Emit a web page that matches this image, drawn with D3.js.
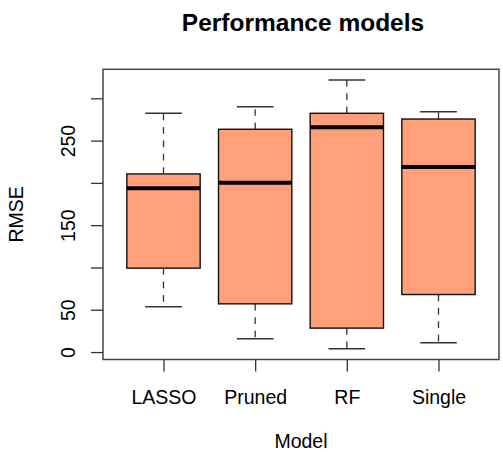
<!DOCTYPE html>
<html>
<head>
<meta charset="utf-8">
<script src="https://cdn.jsdelivr.net/npm/d3@7"></script>
<style>
  body { margin: 0; background: #fff; }
  text { font-family: "Liberation Sans", Arial, Helvetica, sans-serif; fill: #000; }
</style>
</head>
<body>
<div id="chart"></div>
<script>
// boxplot stats
var models = ["LASSO", "Pruned", "RF", "Single"];
var lowerWhisker = [53.5, 15.7, 3.9, 11];
var lowerHinge = [99.2, 57, 28.3, 68];
var medians = [193.7, 200.3, 265.7, 218.8];
var upperHinge = [210.6, 263.4, 282.3, 275.5];
var upperWhisker = [282.3, 290, 321.6, 284.2];

var yTicks = [0, 50, 100, 150, 200, 250, 300];
var yTickLabels = ["0", "50", "", "150", "", "250", ""];

var width = 503, height = 452;
var margin = {top: 69.3, right: 4, bottom: 92.5, left: 103};

var svg = d3.select("#chart").append("svg")
  .attr("width", width)
  .attr("height", height);

// R style 4% axis extension
var xlo = 0.5, xhi = models.length + 0.5;
var xpad = (xhi - xlo) * 0.04;
var x = d3.scaleLinear()
  .domain([xlo - xpad, xhi + xpad])
  .range([margin.left, width - margin.right]);

var ymin = d3.min(lowerWhisker), ymax = d3.max(upperWhisker);
var ypad = (ymax - ymin) * 0.04;
var y = d3.scaleLinear()
  .domain([ymin - ypad, ymax + ypad])
  .range([height - margin.bottom, margin.top]);

var boxes = models.map(function(m, i) {
  return {name: m, pos: i + 1, lw: lowerWhisker[i], q1: lowerHinge[i],
    med: medians[i], q3: upperHinge[i], uw: upperWhisker[i]};
});

var boxW = 0.8, capW = 0.4;

var g = svg.append("g").selectAll("g.box")
  .data(boxes)
  .enter().append("g")
  .attr("class", "box");

// whiskers (dashed)
g.append("line")
  .attr("x1", function(d) { return x(d.pos); })
  .attr("x2", function(d) { return x(d.pos); })
  .attr("y1", function(d) { return y(d.q3); })
  .attr("y2", function(d) { return y(d.uw); })
  .style("stroke", "#333").style("stroke-width", 1.3)
  .style("stroke-dasharray", "6.7,6.7");
g.append("line")
  .attr("x1", function(d) { return x(d.pos); })
  .attr("x2", function(d) { return x(d.pos); })
  .attr("y1", function(d) { return y(d.q1); })
  .attr("y2", function(d) { return y(d.lw); })
  .style("stroke", "#333").style("stroke-width", 1.3)
  .style("stroke-dasharray", "6.7,6.7");

// caps
["lw", "uw"].forEach(function(k) {
  g.append("line")
    .attr("x1", function(d) { return x(d.pos - capW / 2); })
    .attr("x2", function(d) { return x(d.pos + capW / 2); })
    .attr("y1", function(d) { return y(d[k]); })
    .attr("y2", function(d) { return y(d[k]); })
    .style("stroke", "#333").style("stroke-width", 1.5);
});

g.append("rect")
  .attr("x", function(d) { return x(d.pos - boxW / 2); })
  .attr("width", function(d) { return x(d.pos + boxW / 2) - x(d.pos - boxW / 2); })
  .attr("y", function(d) { return y(d.q3); })
  .attr("height", function(d) { return y(d.q1) - y(d.q3); })
  .style("fill", "#FFA07A")
  .style("stroke", "#111").style("stroke-width", 1.4);

g.append("line")
  .attr("x1", function(d) { return x(d.pos - boxW / 2); })
  .attr("x2", function(d) { return x(d.pos + boxW / 2); })
  .attr("y1", function(d) { return y(d.med); })
  .attr("y2", function(d) { return y(d.med); })
  .style("stroke", "#000").style("stroke-width", 4);

// frame
svg.append("rect")
  .attr("x", margin.left).attr("y", margin.top)
  .attr("width", width - margin.left - margin.right)
  .attr("height", height - margin.top - margin.bottom)
  .style("fill", "none").style("stroke", "#444").style("stroke-width", 1.5);

// y axis
var yAxis = d3.axisLeft(y)
  .tickValues(yTicks)
  .tickSize(12)
  .tickFormat(function(d, i) { return yTickLabels[i]; });
var ya = svg.append("g")
  .attr("transform", "translate(" + margin.left + ",0)")
  .call(yAxis);
ya.select(".domain").remove();
ya.selectAll("line").style("stroke", "#333").style("stroke-width", 1.3);
ya.selectAll("text")
  .attr("x", null).attr("dy", null)
  .attr("transform", "translate(-28,0) rotate(-90)")
  .attr("text-anchor", "middle")
  .style("font-size", "19.5px");

// x axis
var xAxis = d3.axisBottom(x)
  .tickValues(boxes.map(function(d) { return d.pos; }))
  .tickSize(12)
  .tickFormat(function(d) { return models[d - 1]; });
var xa = svg.append("g")
  .attr("transform", "translate(0," + (height - margin.bottom) + ")")
  .call(xAxis);
xa.select(".domain").remove();
xa.selectAll("line").style("stroke", "#333").style("stroke-width", 1.3);
xa.selectAll("text")
  .attr("y", 44).attr("dy", null)
  .style("font-size", "19.5px");

svg.selectAll(".tick text").style("fill", "#000").style("font-family", "Liberation Sans, Arial, sans-serif");

// titles
var cx = (margin.left + width - margin.right) / 2;
svg.append("text")
  .attr("x", cx + 2).attr("y", 31)
  .attr("text-anchor", "middle")
  .style("font-size", "24.5px").style("font-weight", "bold")
  .text("Performance models");

svg.append("text")
  .attr("x", cx).attr("y", 448)
  .attr("text-anchor", "middle")
  .style("font-size", "19.5px")
  .text("Model");

svg.append("text")
  .attr("transform", "translate(23," + ((margin.top + height - margin.bottom) / 2) + ") rotate(-90)")
  .attr("text-anchor", "middle")
  .style("font-size", "19.5px")
  .text("RMSE");
</script>
</body>
</html>
